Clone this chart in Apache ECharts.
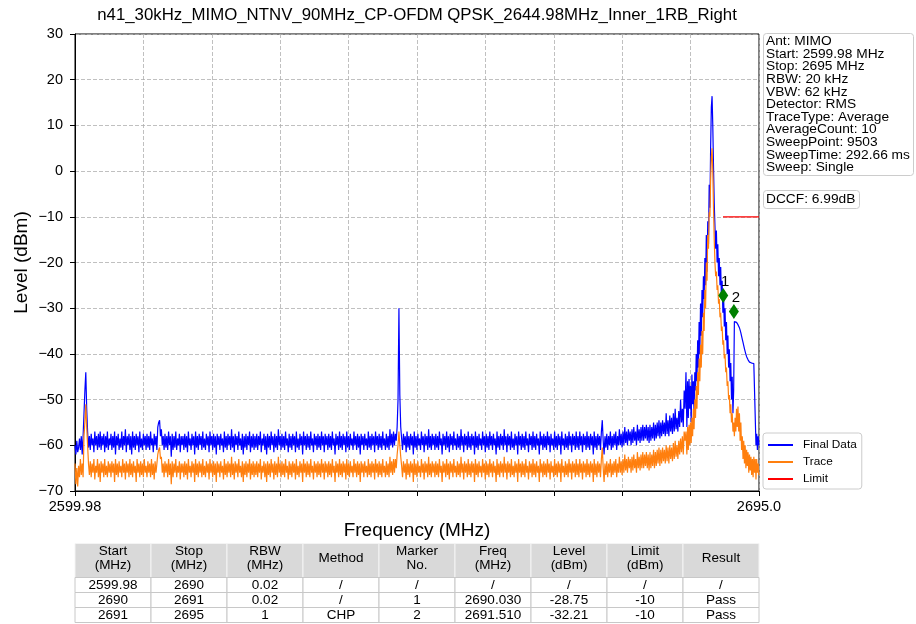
<!DOCTYPE html>
<html><head><meta charset="utf-8">
<script src="https://cdn.jsdelivr.net/npm/echarts@6/dist/echarts.min.js"></script>
<style>html,body{margin:0;padding:0;background:#fff}#c{width:916px;height:624px}</style>
</head><body><div id="c"></div>
<script>
const titleText = 'n41_30kHz_MIMO_NTNV_90MHz_CP-OFDM QPSK_2644.98MHz_Inner_1RB_Right';
const xAxisName = 'Frequency (MHz)';
const yAxisName = 'Level (dBm)';
const freqStart = 2599.98, freqStop = 2695.0, freqTickStep = 9.502;
const xTickLabels = ['2599.98', '2695.0'];
const levelMin = -70, levelMax = 30, levelStep = 10;

// sweep grid: coarse part (0.125 MHz) then fine part (0.1 MHz) around the carrier RB
const coarseStart = 2599.98, coarseStep = 0.125;
const fineStart = 2684.98, fineStep = 0.1;

const finalDataCoarse = [
-60,-62,-59,-61.5,-60.5,-58.5,-61,-58,-62,-58, -53,-48,-44,-52,-57,-60.5,-58,-61,-57.5,-60, -58.5,-61.5,-57,-60,-58,-61,-57.5,-60.5,-57,-61, -58,-60,-57.5,-61.5,-58,-60.5,-57,-61,-58.5,-60,
-57.5,-61,-58,-60.5,-57,-62,-58,-60,-57.5,-61, -58.5,-60.5,-57,-61,-58,-60,-56.5,-61.5,-58,-60, -57.5,-61,-58,-62,-57,-60.5,-58,-61,-57.5,-60, -58,-61.5,-57,-60.5,-58.5,-61,-57.5,-60,-58,-61,
-57.5,-60.5,-58,-61,-57,-60,-58.5,-61.5,-57.5,-60, -58,-61,-56,-55,-54.5,-58,-56.5,-60,-58,-61, -57.5,-60.5,-58,-61,-57,-60,-58,-62.5,-57.5,-61, -58,-60.5,-57,-61,-58.5,-60,-57.5,-61.5,-58,-60,
-58,-61,-57.5,-60.5,-58,-61.5,-57,-60,-58.5,-61, -57.5,-60,-58,-62,-57,-60.5,-58,-61,-57.5,-60, -58,-61,-57,-60.5,-58.5,-61,-57.5,-60,-58,-61.5, -57,-60,-58,-61,-57.5,-60.5,-58,-62,-57.5,-60,
-58,-61,-57.5,-60,-58.5,-61.5,-57,-60.5,-58,-61, -57.5,-60,-58,-61,-56.5,-60.5,-58,-61.5,-57.5,-60, -58,-61,-57,-60,-58.5,-61,-57.5,-62,-58,-60.5, -57.5,-61,-58,-60,-57,-61.5,-58,-60.5,-57.5,-61,
-58,-60.5,-57.5,-61,-58,-60,-57,-61.5,-58.5,-60, -57.5,-61,-58,-62,-57.5,-60.5,-58,-61,-57,-60, -58,-61.5,-57.5,-60.5,-58,-61,-56.5,-60,-58,-61, -57.5,-60.5,-58,-61,-57,-60,-58.5,-61.5,-57.5,-60.5,
-58,-61,-57.5,-60,-58,-61.5,-57,-60.5,-58.5,-61, -57.5,-60,-58,-62,-57,-60,-58,-61,-57.5,-60.5, -58,-61,-57,-60,-58.5,-61.5,-57.5,-60,-58,-61, -57.5,-60.5,-58,-61,-57,-60,-58,-61.5,-57.5,-60,
-58,-61,-57.5,-60.5,-58,-61,-57,-60,-58.5,-62, -57.5,-60,-58,-61,-57,-60.5,-58,-61,-57.5,-60, -58,-61.5,-57,-60.5,-58,-61,-57.5,-60,-58.5,-61, -57,-60,-58,-61,-57.5,-60.5,-58,-62,-57.5,-60,
-58,-61,-57.5,-60,-58.5,-61,-57,-60.5,-58,-61, -57.5,-60,-58,-61.5,-57,-60,-58,-61,-57.5,-60.5, -58,-61,-57,-60,-58.5,-61,-57.5,-60.5,-58,-61, -56.5,-60,-57.5,-60.5,-57,-60,-57.5,-59,-56,-50,
-30,-49,-56,-58.5,-61,-57.5,-60,-58,-61.5,-57, -60.5,-58,-61,-57.5,-60,-58,-62,-57,-60.5,-58, -61,-57.5,-60,-58.5,-61,-57,-60,-58,-61.5,-57.5, -60,-58,-61,-56.5,-60.5,-58,-61,-57.5,-60,-58,
-61,-57.5,-60.5,-58,-61,-57,-60,-58.5,-62,-57.5, -60,-58,-61,-57,-60.5,-58,-61.5,-57.5,-60,-58, -61,-57,-60,-58.5,-61,-57.5,-60.5,-58,-61,-56.5, -60,-58,-61.5,-57.5,-60,-58,-61,-57,-60.5,-58,
-61,-57.5,-60,-58,-62,-57,-60.5,-58,-61,-57.5, -60,-58.5,-61,-57,-60,-58,-61.5,-57.5,-60.5,-58, -61,-57,-60,-58,-61,-57.5,-60,-58.5,-62,-57, -60.5,-58,-61,-57.5,-60,-58,-61,-56.5,-60,-58,
-61.5,-57.5,-60,-58,-61,-57,-60.5,-58.5,-61,-57.5, -60,-58,-62,-57,-60,-58,-61,-57.5,-60.5,-58, -61,-57,-60,-58.5,-61.5,-57.5,-60,-58,-61,-57, -60.5,-58,-61,-57.5,-60,-58.5,-62,-57,-60,-58,
-61,-57.5,-60.5,-58,-61,-57,-60,-58,-61.5,-57.5, -60,-58.5,-61,-57,-60.5,-58,-61,-57.5,-60,-58, -62,-57,-60,-58.5,-61,-57.5,-60.5,-58,-61,-57, -60,-58,-61.5,-57.5,-60,-58,-61,-57,-60.5,-58,
-61,-57,-60,-58,-61.5,-57.5,-60,-58,-61,-57, -60.5,-58,-61,-57.5,-60,-58,-62,-57,-60.5,-58, -61,-57.5,-60,-58,-61,-57,-54.5,-59,-62,-58, -60.5,-57.5,-61,-58,-60,-57,-61,-58,-60.5,-57.5,
-60,-57,-61,-58,-60,-56.5,-60,-57.5,-60.5,-57, -60,-56,-59.5,-57,-60,-56.5,-59,-57,-60,-56.5, -59.5,-56,-59,-57,-60,-55.5,-59,-56.5,-59.5,-56, -59,-55.5,-59,-56,-58.5,-55.5,-59,-56,-59.5,-55.5,
-59,-56,-58.5,-55,-59,-55.5,-58.5,-55,-58,-54.5, -58.5,-55,-58,-54.5,-57.5,-55,-58,-53,-57.5,-54.5, -58,-53.5,-57,-54,-57.5,-53,-57,-52,-56.5,-54, -57,-52.5,-56,-50,-55,-52,-56,-48,-52,-44
];
const traceCoarse = [
-64,-68.5,-65,-69,-64.5,-67,-63,-66.5,-64,-67, -58,-55,-51,-56,-60,-64,-66.5,-63.5,-67,-64, -66,-63,-67.5,-64.5,-66,-63,-67,-64,-68,-63.5, -66,-64,-67,-63,-66.5,-64.5,-67,-63.5,-66,-64,
-67,-63.5,-66,-64,-68,-63,-66.5,-64,-67,-63.5, -66,-64.5,-67,-63,-66,-64,-67.5,-63.5,-66,-64, -67,-63,-66.5,-64,-67,-63.5,-66,-64.5,-68,-63, -66,-64,-67,-63.5,-66.5,-64,-67,-63,-66,-64.5,
-67,-63.5,-66,-64,-67,-63,-66.5,-64,-67.5,-63.5, -66,-64,-62,-61,-60.5,-63,-62.5,-66,-64,-67, -63.5,-66,-64,-67,-63,-66.5,-64,-68.5,-63.5,-67, -64,-66,-63,-67,-64.5,-66,-63.5,-67.5,-64,-66,
-64,-67,-63.5,-66.5,-64,-67.5,-63,-66,-64.5,-67, -63.5,-66,-64,-68,-63,-66.5,-64,-67,-63.5,-66, -64,-67,-63,-66.5,-64.5,-67,-63.5,-66,-64,-67.5, -63,-66,-64,-67,-63.5,-66.5,-64,-68,-63.5,-66,
-64,-67,-63.5,-66,-64.5,-67.5,-63,-66.5,-64,-67, -63.5,-66,-64,-67,-62.5,-66.5,-64,-67.5,-63.5,-66, -64,-67,-63,-66,-64.5,-67,-63.5,-68,-64,-66.5, -63.5,-67,-64,-66,-63,-67.5,-64,-66.5,-63.5,-67,
-64,-66.5,-63.5,-67,-64,-66,-63,-67.5,-64.5,-66, -63.5,-67,-64,-68,-63.5,-66.5,-64,-67,-63,-66, -64,-67.5,-63.5,-66.5,-64,-67,-62.5,-66,-64,-67, -63.5,-66.5,-64,-67,-63,-66,-64.5,-67.5,-63.5,-66.5,
-64,-67,-63.5,-66,-64,-67.5,-63,-66.5,-64.5,-67, -63.5,-66,-64,-68,-63,-66,-64,-67,-63.5,-66.5, -64,-67,-63,-66,-64.5,-67.5,-63.5,-66,-64,-67, -63.5,-66.5,-64,-67,-63,-66,-64,-67.5,-63.5,-66,
-64,-67,-63.5,-66.5,-64,-67,-63,-66,-64.5,-68, -63.5,-66,-64,-67,-63,-66.5,-64,-67,-63.5,-66, -64,-67.5,-63,-66.5,-64,-67,-63.5,-66,-64.5,-67, -63,-66,-64,-67,-63.5,-66.5,-64,-68,-63.5,-66,
-64,-67,-63.5,-66,-64.5,-67,-63,-66.5,-64,-67, -63.5,-66,-64,-67.5,-63,-66,-64,-67,-63.5,-66.5, -64,-67,-63,-66,-64.5,-67,-63.5,-66.5,-64,-67, -62.5,-66,-63.5,-66.5,-63,-66,-63,-65,-62,-60,
-57,-60,-62.5,-64.5,-67,-63.5,-66,-64,-67.5,-63, -66.5,-64,-67,-63.5,-66,-64,-68,-63,-66.5,-64, -67,-63.5,-66,-64.5,-67,-63,-66,-64,-67.5,-63.5, -66,-64,-67,-62.5,-66.5,-64,-67,-63.5,-66,-64,
-67,-63.5,-66.5,-64,-67,-63,-66,-64.5,-68,-63.5, -66,-64,-67,-63,-66.5,-64,-67.5,-63.5,-66,-64, -67,-63,-66,-64.5,-67,-63.5,-66.5,-64,-67,-62.5, -66,-64,-67.5,-63.5,-66,-64,-67,-63,-66.5,-64,
-67,-63.5,-66,-64,-68,-63,-66.5,-64,-67,-63.5, -66,-64.5,-67,-63,-66,-64,-67.5,-63.5,-66.5,-64, -67,-63,-66,-64,-67,-63.5,-66,-64.5,-68,-63, -66.5,-64,-67,-63.5,-66,-64,-67,-62.5,-66,-64,
-67.5,-63.5,-66,-64,-67,-63,-66.5,-64.5,-67,-63.5, -66,-64,-68,-63,-66,-64,-67,-63.5,-66.5,-64, -67,-63,-66,-64.5,-67.5,-63.5,-66,-64,-67,-63, -66.5,-64,-67,-63.5,-66,-64.5,-68,-63,-66,-64,
-67,-63.5,-66.5,-64,-67,-63,-66,-64,-67.5,-63.5, -66,-64.5,-67,-63,-66.5,-64,-67,-63.5,-66,-64, -68,-63,-66,-64.5,-67,-63.5,-66.5,-64,-67,-63, -66,-64,-67.5,-63.5,-66,-64,-67,-63,-66.5,-64,
-67,-63,-66,-64,-67.5,-63.5,-66,-64,-67,-63, -66.5,-64,-67,-63.5,-66,-64,-68,-63,-66.5,-64, -67,-63.5,-66,-64,-67,-63,-60.5,-65,-68,-64, -66.5,-63.5,-67,-64,-66,-63,-67,-64,-66.5,-63.5,
-66,-63,-67,-64,-66,-62.5,-66,-63.5,-66.5,-63, -66,-62,-65.5,-63,-66,-62.5,-65,-63,-66,-62.5, -65.5,-62,-65,-63,-66,-61.5,-65,-62.5,-65.5,-62, -65,-61.5,-65,-62,-64.5,-61.5,-65,-62,-65.5,-61.5,
-65,-62,-64.5,-61,-65,-61.5,-64.5,-61,-64,-60.5, -64.5,-61,-64,-60.5,-63.5,-61,-64,-60,-63.5,-60.5, -64,-60,-63,-60.5,-63.5,-59.5,-63,-59,-62.5,-60, -63,-59,-62,-58.5,-61.5,-58,-62,-57,-59,-57
];
const finalDataFine = [
-56,-46,-54,-45.5,-52,-47,-55,-44.5,-51,-46,
-53,-44,-48,-40,-46,-37,-43,-33,-40,-29,
-36,-26,-32,-23,-28,-19,-25,-14,-22,-11,
-16,-3,-8,5,14,16.4,10,1,-7,-12,
-17,-13,-20,-16,-23,-19,-25,-21,-28,-24,
-31,-27,-34,-30,-37,-33,-40,-36,-43,-39,
-46,-42,-50,-45,-53,-48,-32.9,-32.9,-32.9,-33.1,
-33.3,-33.6,-34,-34.3,-34.8,-35.4,-36.1,-36.8,-37.5,-38.2,
-38.9,-39.5,-40.1,-40.6,-41,-41.3,-41.6,-41.8,-41.9,-42,
-42,-42.1,-42.1,-42.1,-42.2,-42.2,-60,-57.5,-61,-58,
-60
];
const traceFine = [
-62,-56,-61,-55.5,-60,-55,-59.5,-54,-58,-52,
-56.5,-50,-54,-47,-52,-44,-49,-41,-46,-38,
-43,-35,-40,-31,-35,-26,-30,-20,-24,-14,
-17,-9,-10,-2,3,5,0,-8,-15,-20,
-23,-22,-26,-25,-29,-28,-32,-31,-35,-34,
-38,-37,-41,-40,-44,-43,-47,-46,-50,-49,
-53,-51,-55,-53,-57,-55,-58,-54,-57,-52,
-56,-51.5,-57,-53,-59,-55,-61,-58,-63,-59,
-64,-60,-65,-61,-64.5,-61.5,-66,-62,-65.5,-62.5,
-66.5,-63,-67,-62.5,-66,-63,-67.5,-63,-66,-64,
-66.5
];
const limitFreq = [2690, 2695];
const limitLevel = [-10, -10];
const markerNo = ['1', '2'];
const markerFreq = [2690.03, 2691.51];
const markerLevel = [-27.2, -30.7];
const seriesNames = ['Final Data', 'Trace', 'Limit'];
const infoLines = ['Ant: MIMO','Start: 2599.98 MHz','Stop: 2695 MHz','RBW: 20 kHz','VBW: 62 kHz','Detector: RMS','TraceType: Average','AverageCount: 10','SweepPoint: 9503','SweepTime: 292.66 ms','Sweep: Single'];
const dccfText = 'DCCF: 6.99dB';
const tableHeader = ['Start\n(MHz)','Stop\n(MHz)','RBW\n(MHz)','Method','Marker\nNo.','Freq\n(MHz)','Level\n(dBm)','Limit\n(dBm)','Result'];
const tableRow1 = ['2599.98','2690','0.02','/','/','/','/','/','/'];
const tableRow2 = ['2690','2691','0.02','/','1','2690.030','-28.75','-10','Pass'];
const tableRow3 = ['2691','2695','1','CHP','2','2691.510','-32.21','-10','Pass'];

function buildTrace(coarse, fine) {
  const out = [];
  coarse.forEach((v, i) => out.push([+(coarseStart + i * coarseStep).toFixed(3), v]));
  fine.forEach((v, j) => out.push([+(fineStart + j * fineStep).toFixed(3), v]));
  return out;
}
const finalData = buildTrace(finalDataCoarse, finalDataFine);
const traceData = buildTrace(traceCoarse, traceFine);
const limitData = limitFreq.map((f, i) => [f, limitLevel[i]]);
const markerData = markerFreq.map((f, i) => [f, markerLevel[i]]);

const FONT = '"Liberation Sans", Arial, sans-serif';
const graphics = [];
graphics.push({type:'text', x:417, y:16, scaleX:1.05, silent:true,
  style:{text:titleText, fontSize:16, fontFamily:FONT, fill:'#000', align:'center', verticalAlign:'middle'}});
graphics.push({type:'rect', shape:{x:763.5, y:33.5, width:150, height:142, r:3}, silent:true,
  style:{fill:'#fff', stroke:'#cccccc', lineWidth:1}});
graphics.push({type:'text', x:766, y:35.5, scaleX:1.1, silent:true,
  style:{text:infoLines.join('\n'), fontSize:12.5, lineHeight:12.6, fontFamily:FONT, fill:'#000', align:'left', verticalAlign:'top'}});
graphics.push({type:'rect', shape:{x:763.5, y:190.5, width:96, height:18, r:3}, silent:true,
  style:{fill:'#fff', stroke:'#cccccc', lineWidth:1}});
graphics.push({type:'text', x:766, y:199.5, scaleX:1.1, silent:true,
  style:{text:dccfText, fontSize:12.5, fontFamily:FONT, fill:'#000', align:'left', verticalAlign:'middle'}});
// table
const tLeft = 75, colW = 76, hTop = 543.5, hH = 34, rowH = 15;
tableHeader.forEach((h, c) => {
  graphics.push({type:'rect', silent:true, shape:{x:tLeft + c*colW, y:hTop, width:colW, height:hH},
    style:{fill:'#d9d9d9', stroke:'#f4f4f4', lineWidth:1}});
  graphics.push({type:'text', silent:true, x:tLeft + c*colW + colW/2, y:hTop + 15,
    style:{text:h, fontSize:13.5, lineHeight:14, fontFamily:FONT, fill:'#000', align:'center', verticalAlign:'middle'}});
});
[tableRow1, tableRow2, tableRow3].forEach((row, r) => {
  row.forEach((cell, c) => {
    const y0 = hTop + hH + r*rowH;
    graphics.push({type:'rect', silent:true, shape:{x:tLeft + c*colW, y:y0, width:colW, height:rowH},
      style:{fill:'#fff', stroke:'#c8c8c8', lineWidth:1}});
    graphics.push({type:'text', silent:true, x:tLeft + c*colW + colW/2, y:y0 + rowH/2 + 0.5,
      style:{text:cell, fontSize:13.5, fontFamily:FONT, fill:'#000', align:'center', verticalAlign:'middle'}});
  });
});

const chart = echarts.init(document.getElementById('c'), null, {renderer:'canvas'});
const gridLine = {show:true, lineStyle:{color:'#b0b0b0', width:0.8, type:[4,2]}};
chart.setOption({
  animation:false,
  textStyle:{fontFamily:FONT},
  grid:{left:75, top:34, width:684, height:457, show:true, borderColor:'#000', borderWidth:1, backgroundColor:'transparent', containLabel:false, outerBoundsMode:'none'},
  xAxis:{type:'value', min:freqStart, max:freqStop, interval:freqTickStep,
    name:xAxisName, nameLocation:'middle', nameGap:30, nameMoveOverlap:false,
    nameTextStyle:{fontSize:19, color:'#000', fontFamily:FONT},
    axisLine:{show:true, onZero:false, lineStyle:{color:'#000', width:1}},
    axisTick:{show:true, inside:false, length:5, lineStyle:{color:'#000'}},
    axisLabel:{show:true, showMinLabel:true, showMaxLabel:true, margin:8, fontSize:14.5, color:'#000', fontFamily:FONT,
      formatter:(v)=> Math.abs(v-freqStart)<1e-3 ? xTickLabels[0] : (Math.abs(v-freqStop)<1e-3 ? xTickLabels[1] : '')},
    splitLine:gridLine},
  yAxis:{type:'value', min:levelMin, max:levelMax, interval:levelStep,
    name:yAxisName, nameLocation:'middle', nameGap:44, nameMoveOverlap:false,
    nameTextStyle:{fontSize:19, color:'#000', fontFamily:FONT},
    axisLine:{show:true, lineStyle:{color:'#000', width:1}},
    axisTick:{show:true, inside:false, length:5, lineStyle:{color:'#000'}},
    axisLabel:{margin:12, fontSize:14.5, color:'#000', fontFamily:FONT,
      formatter:(v)=> v<0 ? '\u2212'+Math.abs(v) : String(v)},
    splitLine:gridLine},
  legend:{orient:'vertical', left:763, top:433, padding:[5,5,3,5], itemGap:3, itemWidth:25, itemHeight:2, icon:'rect',
    backgroundColor:'#fff', borderColor:'#cccccc', borderWidth:1, borderRadius:3,
    textStyle:{fontSize:11.8, fontFamily:FONT, color:'#000', lineHeight:14, padding:[0,0,0,5]}, data:seriesNames},
  series:[
    {name:seriesNames[0], type:'line', data:finalData, symbol:'none', silent:true, z:2, sampling:'none',
      lineStyle:{color:'#0000ff', width:1.2}, itemStyle:{color:'#0000ff'}},
    {name:seriesNames[1], type:'line', data:traceData, symbol:'none', silent:true, z:3, sampling:'none',
      lineStyle:{color:'#ff7f0e', width:1.2}, itemStyle:{color:'#ff7f0e'}},
    {name:seriesNames[2], type:'line', data:limitData, symbol:'none', silent:true, z:4,
      lineStyle:{color:'#ff0000', width:1.3}, itemStyle:{color:'#ff0000'}},
    {name:'Markers', type:'scatter', data:markerData, symbol:'diamond', symbolSize:[10,15], silent:true, z:5,
      itemStyle:{color:'#008000', opacity:1},
      label:{show:true, position:'top', distance:-1, offset:[2,0], fontSize:15, color:'#000', fontFamily:FONT,
        formatter:(p)=> markerNo[p.dataIndex]}}
  ],
  graphic:{elements:graphics}
});
</script></body></html>
